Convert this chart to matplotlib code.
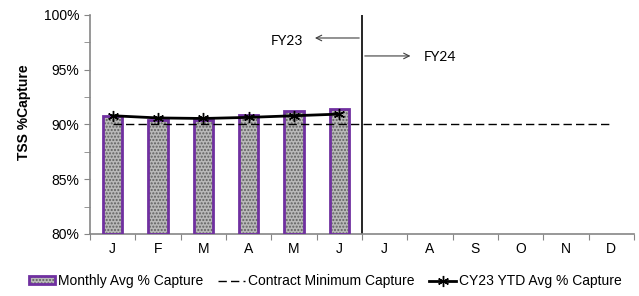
import matplotlib.pyplot as plt
import numpy as np
from matplotlib.patches import Patch
from matplotlib.lines import Line2D
from matplotlib.legend_handler import HandlerTuple

plt.rcParams['font.family'] = ['Liberation Sans', 'DejaVu Sans']
plt.rcParams['hatch.linewidth'] = 1.0

months = ['J', 'F', 'M', 'A', 'M', 'J', 'J', 'A', 'S', 'O', 'N', 'D']
monthly_avg = [90.75, 90.45, 90.45, 90.85, 91.25, 91.45]
ytd_avg = [90.8, 90.6, 90.55, 90.65, 90.8, 90.95]
contract_min = 90.0

fig = plt.figure(figsize=(6.39, 2.96), dpi=100)
ax = fig.add_axes([90 / 639, 62 / 296, 544 / 639, 219 / 296])

x = np.arange(len(monthly_avg))
heights = np.array(monthly_avg) - 80
ax.bar(x, heights, bottom=80, width=0.42, facecolor='#b9b9b9',
       edgecolor='#5f5f5f', hatch='.....', linewidth=0, zorder=2)
ax.bar(x, heights, bottom=80, width=0.42, fill=False,
       edgecolor='#7030a0', linewidth=2, zorder=3)

ax.hlines(contract_min, 0, len(months) - 1, colors='black', linestyles=(0, (6, 3)),
          linewidth=1, zorder=4)
ax.plot(x, ytd_avg, color='black', linewidth=2, marker=(6, 2, 0),
        markersize=8, markeredgewidth=1, zorder=5)

# FY split
ax.axvline(5.5, color='black', linewidth=1.2, zorder=1)
ax.annotate('', xy=(4.4, 97.9), xytext=(5.5, 97.9),
            arrowprops=dict(arrowstyle='->', color='#404040', lw=0.8))
ax.text(4.2, 97.6, 'FY23', ha='right', va='center', fontsize=10, family='Lato')
ax.annotate('', xy=(6.63, 96.26), xytext=(5.5, 96.26),
            arrowprops=dict(arrowstyle='->', color='#404040', lw=0.8))
ax.text(6.87, 96.2, 'FY24', ha='left', va='center', fontsize=10, family='Lato')

ax.set_xlim(-0.5, 11.5)
ax.set_ylim(80, 100)
ax.set_yticks(np.arange(80, 101, 5))
ax.set_yticklabels([f'{v}%' for v in range(80, 101, 5)], fontsize=10)
ax.set_yticks(np.arange(82.5, 100, 5), minor=True)
ax.set_xticks(np.arange(-0.5, 12, 1))
ax.set_xticklabels([])
ax.set_xticks(np.arange(12), minor=True)
ax.set_xticklabels(months, minor=True, fontsize=10)
ax.tick_params(axis='x', which='major', direction='out', length=4, color='#868686')
ax.tick_params(axis='x', which='minor', length=0, pad=6)
ax.tick_params(axis='y', which='both', direction='out', length=4, color='#868686')

for s in ['top', 'right']:
    ax.spines[s].set_visible(False)
for s in ['left', 'bottom']:
    ax.spines[s].set_color('#868686')
    ax.spines[s].set_linewidth(1.2)

ax.set_ylabel('TSS %Capture', fontsize=10, fontweight='bold')
ax.yaxis.set_label_coords(-0.108, 0.557)

h_bar = (Patch(facecolor='#b9b9b9', edgecolor='#5f5f5f', hatch='.....', linewidth=0),
         Patch(fill=False, edgecolor='#7030a0', linewidth=2))
h_min = Line2D([], [], color='black', linestyle=(0, (6, 3)), linewidth=1)
h_ytd = Line2D([], [], color='black', linewidth=2, marker=(6, 2, 0),
               markersize=8, markeredgewidth=1)
fig.legend([h_bar, h_min, h_ytd],
           ['Monthly Avg % Capture', 'Contract Minimum Capture', 'CY23 YTD Avg % Capture'],
           handler_map={tuple: HandlerTuple(ndivide=1, pad=0)},
           loc='center', bbox_to_anchor=(325 / 639, 15 / 296), ncol=3, frameon=False,
           fontsize=10, handlelength=1.9, handleheight=0.5, handletextpad=0.2,
           columnspacing=1.1, numpoints=1)

fig.savefig('out.png', dpi=100)
